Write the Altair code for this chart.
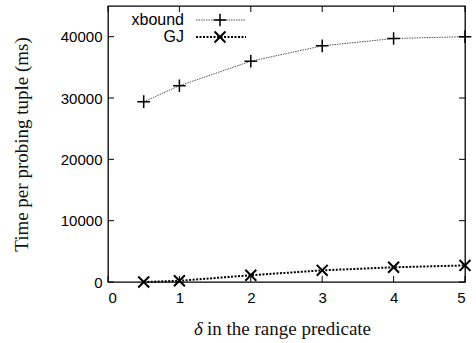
import altair as alt
import pandas as pd

# data
x_vals = [0.5, 1, 2, 3, 4, 5]
xbound = [29400, 32000, 36000, 38500, 39700, 40000]
gj = [0, 200, 1100, 1900, 2400, 2700]
series_names = ["xbound", "GJ"]
x_ticks = [0, 1, 2, 3, 4, 5]
y_ticks = [0, 10000, 20000, 30000, 40000]
x_title_symbol = "δ"
x_title_rest = "in the range predicate"

W, H = 357, 276
PLUS = "M-1,0L1,0M0,-1L0,1"
CROSS = "M-1,-1L1,1M-1,1L1,-1"

df = pd.DataFrame({
    "x": x_vals * 2,
    "y": xbound + gj,
    "s": ["xbound"] * len(x_vals) + ["GJ"] * len(x_vals),
})
xt = pd.DataFrame({"v": x_ticks})
yt = pd.DataFrame({"v": y_ticks})

xs = alt.Scale(domain=[0, 5], nice=False, zero=False)
ys = alt.Scale(domain=[0, 45000], nice=False)

xenc = alt.X("x:Q", scale=xs, axis=alt.Axis(
    values=x_ticks, format="d", ticks=False, domain=False, grid=False, labelPadding=8,
    labelFontSize=15, labelFont="Liberation Sans", labelColor="black", title=None))
yenc = alt.Y("y:Q", scale=ys, axis=alt.Axis(
    values=y_ticks, format="d", ticks=False, domain=False, grid=False, labelPadding=6,
    labelFontSize=15, labelFont="Liberation Sans", labelColor="black",
    title="Time per probing tuple (ms)", titleFont="Liberation Serif",
    titleFontSize=19, titleFontWeight="normal", titleColor="#111111", titlePadding=29))

base = alt.Chart(df)

xb = base.transform_filter(alt.datum.s == "xbound")
gjc = base.transform_filter(alt.datum.s == "GJ")

l1 = xb.mark_line(color="#555555", strokeWidth=1, strokeDash=[1.5, 1]).encode(x=xenc, y=yenc)
p1 = xb.mark_point(shape=PLUS, size=160, filled=False, color="black", strokeWidth=1.5, opacity=1).encode(x="x:Q", y="y:Q")
l2 = gjc.mark_line(color="black", strokeWidth=2, strokeDash=[2, 1.5]).encode(x="x:Q", y="y:Q")
p2 = gjc.mark_point(shape=CROSS, size=120, filled=False, color="black", strokeWidth=2, opacity=1).encode(x="x:Q", y="y:Q")

# inward ticks (mirrored)
tk = 6
yt_l = alt.Chart(yt).mark_rule(color="black").encode(y=alt.Y("v:Q", scale=ys), x=alt.value(0), x2=alt.value(tk))
yt_r = alt.Chart(yt).mark_rule(color="black").encode(y=alt.Y("v:Q", scale=ys), x=alt.value(W - tk), x2=alt.value(W))
xt_b = alt.Chart(xt).mark_rule(color="black").encode(x=alt.X("v:Q", scale=xs), y=alt.value(H - tk), y2=alt.value(H))
xt_t = alt.Chart(xt).mark_rule(color="black").encode(x=alt.X("v:Q", scale=xs), y=alt.value(0), y2=alt.value(tk))

# x-axis title with italic delta
ttl = alt.Chart(pd.DataFrame({"a": [x_title_symbol], "b": [x_title_rest]}))
t_sym = ttl.mark_text(align="left", baseline="alphabetic", font="Liberation Serif", fontSize=19,
                      fontStyle="italic", color="#111111").encode(text="a:N", x=alt.value(86), y=alt.value(H + 53))
t_rest = ttl.mark_text(align="left", baseline="alphabetic", font="Liberation Serif", fontSize=19,
                       color="#111111").encode(text="b:N", x=alt.value(99), y=alt.value(H + 53))

# legend
leg = pd.DataFrame({"name": series_names})
def legend_row(name, row_y, shape, size, lcolor, lwidth, dash, pwidth):
    d = alt.Chart(leg).transform_filter(alt.datum.name == name)
    t = d.mark_text(align="right", baseline="middle", font="Liberation Sans", fontSize=16, color="black").encode(
        text="name:N", x=alt.value(76), y=alt.value(row_y))
    r = d.mark_rule(color=lcolor, strokeWidth=lwidth, strokeDash=dash).encode(
        x=alt.value(88), x2=alt.value(138), y=alt.value(row_y))
    p = d.mark_point(shape=shape, size=size, filled=False, color="black", strokeWidth=pwidth, opacity=1).encode(
        x=alt.value(112), y=alt.value(row_y))
    return [t, r, p]

legend_layers = legend_row("xbound", 14, PLUS, 160, "#555555", 1, [1.5, 1], 1.5) + \
    legend_row("GJ", 31, CROSS, 120, "black", 2, [2, 1.5], 2)

chart = alt.layer(l1, l2, p1, p2, yt_l, yt_r, xt_b, xt_t, t_sym, t_rest, *legend_layers).properties(
    width=W, height=H,
    autosize=alt.AutoSizeParams(type="none"),
    padding={"left": 108, "top": 6, "right": 11, "bottom": 61},
    background="white",
).configure_view(stroke="black", strokeWidth=1.3)

chart.save("out.html", embed_options={"renderer": "svg", "actions": False})
